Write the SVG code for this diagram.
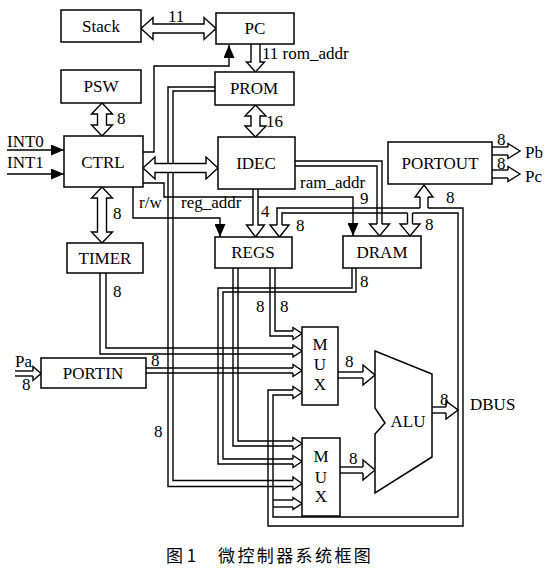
<svg xmlns="http://www.w3.org/2000/svg" width="549" height="570" viewBox="0 0 549 570">
<style>
.box{fill:#fff;stroke:#000;stroke-width:1.5}
.ln{fill:none;stroke:#000;stroke-width:1.4}
.ah{fill:#fff;stroke:#000;stroke-width:1.4;stroke-linejoin:miter}
.t{font-family:"Liberation Serif","Times New Roman",serif;font-size:17px;fill:#000}
.m{text-anchor:middle}
.cap{font-family:"Noto Sans CJK SC",sans-serif;font-size:17px;fill:#000}
</style>
<defs>
<marker id="sa" markerWidth="13" markerHeight="11" refX="13" refY="5.5" orient="auto" markerUnits="userSpaceOnUse"><path d="M0,0 L13,5.5 L0,11 z" fill="#000"/></marker>
</defs>
<rect width="549" height="570" fill="#fff"/>
<g id="connectors">
<!-- thin bus lines -->
<polyline class="ln" points="215,87 168,87 168,486.5 293,486.5"/>
<polyline class="ln" points="215,91 173,91 173,480.5 293,480.5"/>
<polyline class="ln" points="352,268 352,288 218,288 218,464 293,464"/>
<polyline class="ln" points="356,268 356,292 223,292 223,459 293,459"/>
<polyline class="ln" points="233,268 233,446 293,446"/>
<polyline class="ln" points="238,268 238,441 293,441"/>
<polyline class="ln" points="270,268 270,336 293,336"/>
<polyline class="ln" points="275,268 275,331 293,331"/>
<polyline class="ln" points="100,273 100,354 293,354"/>
<polyline class="ln" points="106,273 106,348 293,348"/>
<polyline class="ln" points="146,368 293,368"/>
<polyline class="ln" points="146,373 293,373"/>
<polyline class="ln" points="277,225 277,208 420,208"/>
<polyline class="ln" points="428,208 463,208 463,526 268,526 268,390 293,390"/>
<polyline class="ln" points="282,225 282,213 407.5,213"/>
<polyline class="ln" points="412.5,213 458,213 458,517 273,517 273,395 293,395"/>
<polyline class="ln" points="273,500 293,500"/>
<polyline class="ln" points="273,507 293,507"/>
<polyline class="ln" points="407.5,213 407.5,224"/>
<polyline class="ln" points="412.5,213 412.5,224"/>
<polyline class="ln" points="420,208 420,197"/>
<polyline class="ln" points="428,208 428,197"/>
<polyline class="ln" points="295,161 382,161 382,224"/>
<polyline class="ln" points="295,166 377,166 377,224"/>
<polyline class="ln" points="338,372 363,372"/>
<polyline class="ln" points="338,378 363,378"/>
<polyline class="ln" points="340,467 363,467"/>
<polyline class="ln" points="340,473 363,473"/>
<polyline class="ln" points="432,407 446,407"/>
<polyline class="ln" points="432,413 446,413"/>
<polyline class="ln" points="492,147 508,147"/>
<polyline class="ln" points="492,155 508,155"/>
<polyline class="ln" points="492,170 508,170"/>
<polyline class="ln" points="492,178 508,178"/>
<polyline class="ln" points="15,371 33,371"/>
<polyline class="ln" points="15,376 33,376"/>
<!-- control lines -->
<polyline class="ln" points="143,152 154,152 154,66 229,66 229,45" marker-end="url(#sa)"/>
<line class="ln" x1="7" y1="150" x2="64" y2="150" marker-end="url(#sa)"/>
<line class="ln" x1="7" y1="174" x2="64" y2="174" marker-end="url(#sa)"/>
<polyline class="ln" points="133,187 133,218 220,218 220,237" marker-end="url(#sa)"/>
<polyline class="ln" points="143,183 164,183 164,197 353,197 353,236" marker-end="url(#sa)"/>
<!-- hollow heads -->
<polyline class="ah" points="293,480.5 293,477 302,483.5 293,490 293,486.5"/>
<polyline class="ah" points="293,459 293,455.5 302,461.5 293,467.5 293,464"/>
<polyline class="ah" points="293,441 293,437.5 302,443.5 293,449.5 293,446"/>
<polyline class="ah" points="293,331 293,327.5 302,333.5 293,339.5 293,336"/>
<polyline class="ah" points="293,348 293,345 302,351 293,357 293,354"/>
<polyline class="ah" points="293,368 293,364.5 302,370.5 293,376.5 293,373"/>
<polyline class="ah" points="293,390 293,386.5 302,392.5 293,398.5 293,395"/>
<polyline class="ah" points="293,500 293,497.5 302,503.5 293,509.5 293,507"/>
<polyline class="ah" points="277,225 270,225 279.5,237 289,225 282,225"/>
<polyline class="ah" points="407.5,224 400,224 410,236 420,224 412.5,224"/>
<polyline class="ah" points="420,197 415,197 424,185 433,197 428,197"/>
<polyline class="ah" points="377,224 369.5,224 379.5,236 389.5,224 382,224"/>
<polyline class="ah" points="253,189 253,225 246.5,225 255.5,237 264.5,225 258,225 258,189"/>
<polyline class="ah" points="363,372 363,365 375,375 363,385 363,378"/>
<polyline class="ah" points="363,467 363,460 375,470 363,480 363,473"/>
<polyline class="ah" points="446,407 446,401 458,410 446,419 446,413"/>
<polyline class="ah" points="508,147 508,143.5 520,151 508,158.5 508,155"/>
<polyline class="ah" points="508,170 508,166.5 520,174 508,181.5 508,178"/>
<polyline class="ah" points="33,371 33,366.5 41,373.5 33,380.5 33,376"/>
<!-- fat arrows -->
<polygon class="ah" points="141,28.5 153,17.5 153,24 204,24 204,17.5 216,28.5 204,39.5 204,33 153,33 153,39.5"/>
<polyline class="ah" points="251,44 251,62 246.5,62 255.5,72 264.5,62 260,62 260,44"/>
<polygon class="ah" points="102,103 112.5,114 106.5,114 106.5,125 112.5,125 102,136 91.5,125 97.5,125 97.5,114 91.5,114"/>
<polygon class="ah" points="255.5,105 266,116 260,116 260,126 266,126 255.5,137 245,126 251,126 251,116 245,116"/>
<polygon class="ah" points="143,168 155,157 155,163.5 206,163.5 206,157 218,168 206,179 206,172.5 155,172.5 155,179"/>
<polygon class="ah" points="102,187 112.5,198 106.5,198 106.5,232 112.5,232 102,243 91.5,232 97.5,232 97.5,198 91.5,198"/>
<!-- labels -->
<text class="t" x="168" y="22">11</text>
<text class="t" x="262" y="59">11 rom_addr</text>
<text class="t" x="117" y="124">8</text>
<text class="t" x="266" y="127">16</text>
<text class="t" x="113" y="219">8</text>
<text class="t" x="7" y="147">INT0</text>
<text class="t" x="7" y="168">INT1</text>
<text class="t" x="139" y="208">r/w</text>
<text class="t" x="181" y="208">reg_addr</text>
<text class="t" x="261" y="217">4</text>
<text class="t" x="300" y="188">ram_addr</text>
<text class="t" x="360" y="204">9</text>
<text class="t" x="296" y="231">8</text>
<text class="t" x="425" y="230">8</text>
<text class="t" x="446" y="203">8</text>
<text class="t" x="497" y="145">8</text>
<text class="t" x="497" y="169">8</text>
<text class="t" x="525" y="158">Pb</text>
<text class="t" x="525" y="182">Pc</text>
<text class="t" x="360" y="287">8</text>
<text class="t" x="113" y="297">8</text>
<text class="t" x="256" y="312">8</text>
<text class="t" x="280" y="312">8</text>
<text class="t" x="151" y="366">8</text>
<text class="t" x="15" y="367">Pa</text>
<text class="t" x="22" y="390">8</text>
<text class="t" x="154" y="437">8</text>
<text class="t" x="345" y="367">8</text>
<text class="t" x="349" y="464">8</text>
<text class="t" x="440" y="405">8</text>
<text class="t" x="470" y="410">DBUS</text>
</g>
<g id="Stack"><rect class="box" x="61" y="10" width="80" height="32"/><text class="t m" x="101" y="32">Stack</text></g>
<g id="PC"><rect class="box" x="216" y="13" width="78" height="31"/><text class="t m" x="255" y="34">PC</text></g>
<g id="PSW"><rect class="box" x="61" y="70" width="80" height="33"/><text class="t m" x="101" y="92">PSW</text></g>
<g id="PROM"><rect class="box" x="215" y="72" width="79" height="33"/><text class="t m" x="254" y="94">PROM</text></g>
<g id="CTRL"><rect class="box" x="64" y="136" width="79" height="51"/><text class="t m" x="103" y="168">CTRL</text></g>
<g id="IDEC"><rect class="box" x="218" y="137" width="77" height="52"/><text class="t m" x="256" y="169">IDEC</text></g>
<g id="PORTOUT"><rect class="box" x="388" y="142" width="104" height="42"/><text class="t m" x="440" y="169">PORTOUT</text></g>
<g id="TIMER"><rect class="box" x="67" y="243" width="76" height="30"/><text class="t m" x="105" y="264">TIMER</text></g>
<g id="REGS"><rect class="box" x="215" y="237" width="77" height="31"/><text class="t m" x="253" y="258">REGS</text></g>
<g id="DRAM"><rect class="box" x="343" y="236" width="78" height="32"/><text class="t m" x="382" y="258">DRAM</text></g>
<g id="PORTIN"><rect class="box" x="41" y="358" width="105" height="30"/><text class="t m" x="93" y="379">PORTIN</text></g>
<g id="MUX1"><rect class="box" x="302" y="327" width="36" height="78"/><text class="t m" x="320" y="350">M</text><text class="t m" x="320" y="370">U</text><text class="t m" x="320" y="390">X</text></g>
<g id="MUX2"><rect class="box" x="302" y="438" width="38" height="78"/><text class="t m" x="321" y="462">M</text><text class="t m" x="321" y="483">U</text><text class="t m" x="321" y="502">X</text></g>
<g id="ALU"><polygon class="box" points="375,351 432,374 432,457 375,493 375,434 385,423 375,408"/><text class="t m" x="408" y="427">ALU</text></g>
<g id="caption"><text class="cap" x="166" y="562">图 1</text><text class="cap" x="218" y="562" letter-spacing="2.4">微控制器系统框图</text></g>
</svg>
